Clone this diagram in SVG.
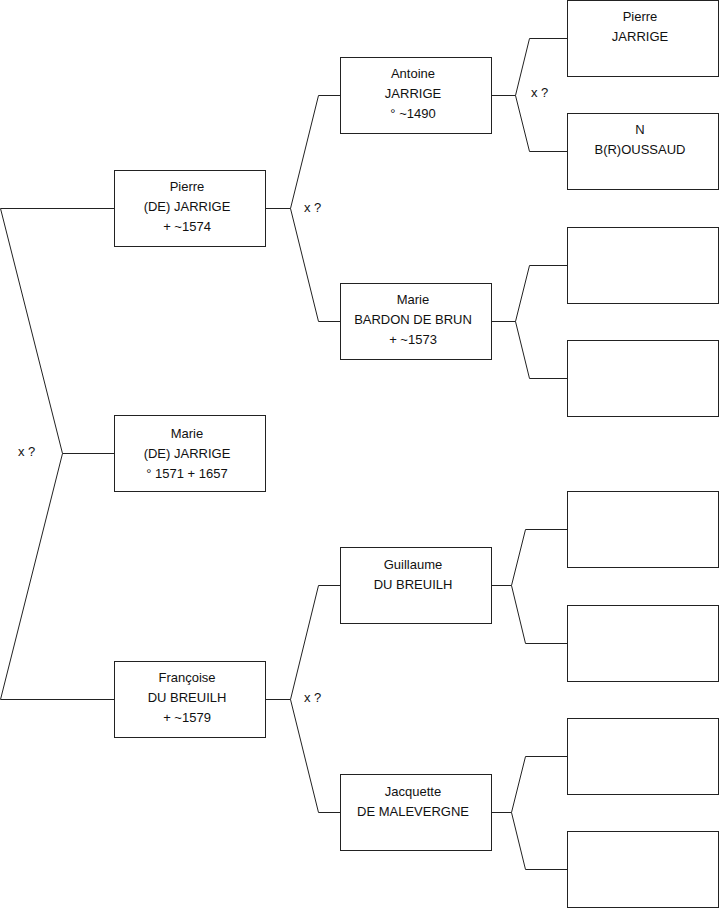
<svg xmlns="http://www.w3.org/2000/svg" width="719" height="908" viewBox="0 0 719 908">
<style>
.box{fill:#fff;stroke:#222;stroke-width:1}
.ln{fill:none;stroke:#222;stroke-width:1}
text{font-family:"Liberation Sans",Arial,sans-serif;font-size:13px;fill:#111;text-anchor:middle}
.lbl{text-anchor:start}
</style>
<rect width="719" height="908" fill="#fff"/>
<g id="connectors">
<polyline class="ln" points="114.5,208.5 0.5,208.5 62.5,453.5 0.5,699.5 114.5,699.5"/>
<line class="ln" x1="62.5" y1="453.5" x2="114.5" y2="453.5"/>
<polyline class="ln" points="265.5,208.5 290.5,208.5 318.5,95.5 340.5,95.5"/>
<polyline class="ln" points="290.5,208.5 318.5,321.5 340.5,321.5"/>
<polyline class="ln" points="265.5,699.5 290.5,699.5 318.5,585.5 340.5,585.5"/>
<polyline class="ln" points="290.5,699.5 318.5,812.5 340.5,812.5"/>
<polyline class="ln" points="491.5,95.5 515.5,95.5 529.5,38.5 567.5,38.5"/>
<polyline class="ln" points="515.5,95.5 529.5,151.5 567.5,151.5"/>
<polyline class="ln" points="491.5,321.5 515.5,321.5 529.5,265.5 567.5,265.5"/>
<polyline class="ln" points="515.5,321.5 529.5,378.5 567.5,378.5"/>
<polyline class="ln" points="491.5,585.5 511.5,585.5 525.5,529.5 567.5,529.5"/>
<polyline class="ln" points="511.5,585.5 525.5,643.5 567.5,643.5"/>
<polyline class="ln" points="491.5,812.5 511.5,812.5 525.5,756.5 567.5,756.5"/>
<polyline class="ln" points="511.5,812.5 525.5,869.5 567.5,869.5"/>
<text class="lbl" x="18" y="456">x ?</text>
<text class="lbl" x="304" y="212">x ?</text>
<text class="lbl" x="304" y="702">x ?</text>
<text class="lbl" x="531" y="97">x ?</text>
</g>
<g id="n-pierre-de-jarrige">
<rect class="box" x="114.5" y="170.5" width="151" height="76"/>
<text x="187" y="191">Pierre</text><text x="187" y="211">(DE) JARRIGE</text><text x="187" y="231">+ ~1574</text>
</g>
<g id="n-marie-de-jarrige">
<rect class="box" x="114.5" y="415.5" width="151" height="76"/>
<text x="187" y="438">Marie</text><text x="187" y="458">(DE) JARRIGE</text><text x="187" y="478">° 1571 + 1657</text>
</g>
<g id="n-francoise">
<rect class="box" x="114.5" y="661.5" width="151" height="76"/>
<text x="187" y="682">Françoise</text><text x="187" y="702">DU BREUILH</text><text x="187" y="722">+ ~1579</text>
</g>
<g id="n-antoine">
<rect class="box" x="340.5" y="57.5" width="151" height="76"/>
<text x="413" y="78">Antoine</text><text x="413" y="98">JARRIGE</text><text x="413" y="118">° ~1490</text>
</g>
<g id="n-marie-bardon">
<rect class="box" x="340.5" y="283.5" width="151" height="76"/>
<text x="413" y="304">Marie</text><text x="413" y="324">BARDON DE BRUN</text><text x="413" y="344">+ ~1573</text>
</g>
<g id="n-guillaume">
<rect class="box" x="340.5" y="547.5" width="151" height="76"/>
<text x="413" y="569">Guillaume</text><text x="413" y="589">DU BREUILH</text>
</g>
<g id="n-jacquette">
<rect class="box" x="340.5" y="774.5" width="151" height="76"/>
<text x="413" y="796">Jacquette</text><text x="413" y="816">DE MALEVERGNE</text>
</g>
<g id="n-pierre-jarrige">
<rect class="box" x="567.5" y="0.5" width="151" height="76"/>
<text x="640" y="21">Pierre</text><text x="640" y="41">JARRIGE</text>
</g>
<g id="n-broussaud">
<rect class="box" x="567.5" y="113.5" width="151" height="76"/>
<text x="640" y="134">N</text><text x="640" y="154">B(R)OUSSAUD</text>
</g>
<g id="n-empty-1"><rect class="box" x="567.5" y="227.5" width="151" height="76"/></g>
<g id="n-empty-2"><rect class="box" x="567.5" y="340.5" width="151" height="76"/></g>
<g id="n-empty-3"><rect class="box" x="567.5" y="491.5" width="151" height="76"/></g>
<g id="n-empty-4"><rect class="box" x="567.5" y="605.5" width="151" height="76"/></g>
<g id="n-empty-5"><rect class="box" x="567.5" y="718.5" width="151" height="76"/></g>
<g id="n-empty-6"><rect class="box" x="567.5" y="831.5" width="151" height="76"/></g>
</svg>
